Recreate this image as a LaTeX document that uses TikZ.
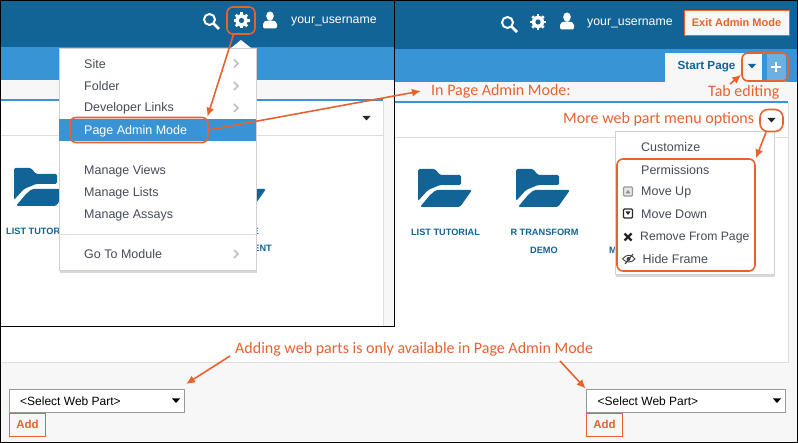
\documentclass[tikz,border=0pt]{standalone}
\usepackage{fontspec}
\setmainfont{Liberation Sans}
\newfontfamily\notefont{Carlito}
\usetikzlibrary{arrows.meta,shadows}

\definecolor{headblue}{HTML}{126396}
\definecolor{stripblue}{HTML}{3894D4}
\definecolor{plusblue}{HTML}{6CB0E2}
\definecolor{pagegray}{HTML}{F7F7F7}
\definecolor{linegray}{HTML}{DDDDDD}
\definecolor{menutext}{HTML}{454B57}
\definecolor{callout}{HTML}{E8622F}

\tikzset{
	menuitem/.style={anchor=west,inner sep=0pt,text=menutext,font=\fontsize{12.5}{14}\selectfont},
	menubox/.style={fill=white,draw=black!18,line width=0.5pt,drop shadow={opacity=0.3,shadow xshift=1pt,shadow yshift=-3pt}},
	linktext/.style={inner sep=0pt,text=headblue,font=\fontsize{9.2}{11}\selectfont\bfseries},
	usertext/.style={anchor=west,inner sep=0pt,text=white,font=\fontsize{12.3}{14}\selectfont},
	note/.style={anchor=west,inner sep=0pt,text=callout,font=\fontsize{16}{18}\notefont},
	ring/.style={shape=rectangle,draw=callout,line width=1.6pt,rounded corners=6pt,inner sep=0pt},
	pointer/.style={draw=callout,line width=1.6pt,-{Latex[length=9pt,width=8pt]}},
	selectbox/.style={shape=rectangle,draw=black!40,fill=white,line width=0.7pt,inner sep=0pt,minimum height=23pt},
	addbox/.style={shape=rectangle,draw=callout,fill=pagegray,line width=0.8pt,inner sep=0pt,minimum width=36pt,minimum height=23pt,text=callout,font=\fontsize{11.5}{13}\selectfont\bfseries},
	folder/.pic={
		\fill[headblue,rounded corners=1.5pt] (0,5) -- (0,1) -- (17,1) -- (22,7) -- (43,7) -- (43,17) -- (22,17) -- (10,22) -- (0,33) -- cycle;
		\fill[headblue,rounded corners=1.5pt] (18,22) -- (54,22) -- (42,39) -- (2,39) -- (12,27) -- cycle;
	},
	search/.pic={
		\draw[white,line width=2pt] (-1.5,-1.5) circle (5.5);
		\draw[white,line width=2.6pt] (2.5,2.5) -- (8,8);
	},
	gear/.pic={
		\foreach \a in {0,45,...,315}
			\draw[white,line width=2.8pt] (0,0) -- (\a:8);
		\fill[white] (0,0) circle (6.2);
		\fill[headblue] (0,0) circle (2.6);
	},
	user/.pic={
		\fill[white] (0,-4.5) ellipse (3.8 and 4.6);
		\fill[white,rounded corners=2pt] (-7,8) -- (-7,1.5) -- (-3,0) -- (3,0) -- (7,1.5) -- (7,8) -- cycle;
	},
	chevron/.pic={
		\draw[black!25,line width=1.6pt] (-2,-4) -- (2,0) -- (-2,4);
	},
	caret/.pic={
		\fill (-4,-2) -- (4,-2) -- (0,2.5) -- cycle;
	}
}

\begin{document}
\begin{tikzpicture}[x=1pt,y=-1pt]
	\useasboundingbox (0,0) rectangle (798,443);

	% page behind the screenshots
	\fill[white] (0,0) rectangle (798,443);
	\fill[pagegray] (0,362) rectangle (798,443);
	\fill[linegray] (0,362) rectangle (789,363.5);
	\fill[pagegray] (788,82) rectangle (798,362);
	\fill[headblue] (394,0) rectangle (798,49);
	\fill[stripblue] (394,49) rectangle (798,82);
	\fill[pagegray] (394,82) rectangle (798,101);
	\fill[stripblue] (394,101) rectangle (788,103);
	\fill[linegray] (394,137.5) rectangle (788,138.5);
	\fill[linegray] (788,103) rectangle (789,362);

	% small screenshot
	\fill[headblue] (0,0) rectangle (394,47);
	\fill[stripblue] (0,47) rectangle (394,80);
	\fill[pagegray] (0,80) rectangle (394,99);
	\fill[stripblue] (0,99) rectangle (383,101);
	\fill[white] (0,101) rectangle (383,326);
	\fill[pagegray] (383,101) rectangle (394,326);
	\fill[linegray] (0,135.5) rectangle (383,136.5);
	\fill[linegray] (383,101) rectangle (384,326);

	% tab
	\fill[pagegray] (665,53) rectangle (762,82);
	\fill[plusblue] (767,53) rectangle (786,82);
	\node[inner sep=0pt,text=headblue,font=\fontsize{11.7}{14}\selectfont\bfseries] (startpage) at (706.5,67) {Start Page};
	\path[headblue] (752,66) pic {caret};
	\draw[white,line width=2.2pt] (771,67) -- (781,67) (776,62) -- (776,72);

	% top bars
	\path (211,21) pic {search};
	\path (241.5,20.5) pic {gear};
	\path (270,20.5) pic {user};
	\node[usertext] (userleft) at (291,21.5) {your\_username};
	\path (509,24) pic {search};
	\path (538,22) pic {gear};
	\path (567,21.5) pic {user};
	\node[usertext] (userright) at (587,23.5) {your\_username};
	\node[shape=rectangle,draw=callout,fill=pagegray,line width=0.9pt,inner sep=0pt,minimum width=105pt,minimum height=25pt,text=callout,font=\fontsize{11}{13}\selectfont\bfseries] (exitadmin) at (736.5,22.5) {Exit Admin Mode};

	% folders and their labels
	\path (14,167) pic {folder};
	\path (212,167) pic {folder};
	\path (418,168) pic {folder};
	\path (516,168) pic {folder};
	\node[linktext,anchor=west] (listleft) at (6,231) {LIST TUTORIAL};
	\node[linktext,anchor=east] (entleft) at (272,248) {ENT};
	\node[linktext,anchor=east] (eleft) at (259,231) {E};
	\node[linktext] (listright) at (445.5,232.5) {LIST TUTORIAL};
	\node[linktext] (transform) at (544.5,232.5) {R TRANSFORM};
	\node[linktext] (demo) at (544,250) {DEMO};
	\node[linktext,anchor=west] (mright) at (609,250) {M};

	% panel menu carets
	\path[black!85] (366.5,118) pic {caret};
	\path[black!85] (771.5,120) pic {caret};

	% left menu
	\fill[white] (241,40) -- (231,48) -- (251,48) -- cycle;
	\node[shape=rectangle,menubox,minimum width=197pt,minimum height=222pt,inner sep=0pt] (adminmenu) at (157.5,159) {};
	\fill[stripblue] (59,119) rectangle (256,141);
	\fill[linegray] (59,234) rectangle (256,235);
	\node[menuitem] (site) at (84,64) {Site};
	\node[menuitem] (foldermenu) at (84,86) {Folder};
	\node[menuitem] (devlinks) at (84,108) {Developer Links};
	\node[menuitem,text=white] (pageadmin) at (84,131) {Page Admin Mode};
	\node[menuitem] (views) at (84,171) {Manage Views};
	\node[menuitem] (lists) at (84,193.5) {Manage Lists};
	\node[menuitem] (assays) at (84,215.5) {Manage Assays};
	\node[menuitem] (gotomodule) at (84,254) {Go To Module};
	\path (236,63.5) pic {chevron};
	\path (236,86) pic {chevron};
	\path (236,108) pic {chevron};
	\path (236,254) pic {chevron};

	% right menu
	\node[shape=rectangle,menubox,minimum width=159pt,minimum height=143pt,inner sep=0pt] (partmenu) at (694.5,202.5) {};
	\node[menuitem] (customize) at (641,147) {Customize};
	\node[menuitem] (permissions) at (641,170.5) {Permissions};
	\node[menuitem] (moveup) at (641,192.5) {Move Up};
	\node[menuitem] (movedown) at (641,214) {Move Down};
	\node[menuitem,font=\fontsize{12.2}{14}\selectfont] (removepage) at (640,237.5) {Remove From Page};
	\node[menuitem] (hideframe) at (642.5,259.5) {Hide Frame};
	\draw[black!40,fill=black!10,line width=1.2pt,rounded corners=1pt] (623.5,187) rectangle (632.5,196);
	\fill[black!45] (625.5,193.5) -- (630.5,193.5) -- (628,190) -- cycle;
	\draw[black!85,fill=white,line width=1.4pt,rounded corners=1pt] (623.5,209) rectangle (632.5,218);
	\fill[black!85] (625.5,211.5) -- (630.5,211.5) -- (628,215) -- cycle;
	\draw[black!85,line width=2.4pt] (624.5,233.5) -- (631.5,240.5) (631.5,233.5) -- (624.5,240.5);
	\draw[black!75,line width=0.9pt] (622.5,259) .. controls (626,254) and (632,254) .. (635,259) .. controls (632,263) and (626,263) .. (622.5,259);
	\fill[black!75] (628.5,259) circle (2);
	\draw[black!75,line width=1.1pt] (625,264) -- (633,254);

	% bottom of both panels
	\node[selectbox,minimum width=175pt] (selectleft) at (96.5,400.5) {};
	\node[anchor=west,inner sep=0pt,font=\fontsize{12}{14}\selectfont] (selecttextl) at (20,401) {<Select Web Part>};
	\path[black] (176,400.5) pic {caret};
	\node[addbox] (addleft) at (27.5,424.5) {Add};
	\node[selectbox,minimum width=199pt] (selectright) at (685.5,400.5) {};
	\node[anchor=west,inner sep=0pt,font=\fontsize{12}{14}\selectfont] (selecttextr) at (597.5,401) {<Select Web Part>};
	\path[black] (777,400.5) pic {caret};
	\node[addbox] (addright) at (604.5,424.5) {Add};

	% frames
	\draw[black,line width=1pt] (0.5,0.5) rectangle (797.5,442.5);
	\draw[black,line width=1pt] (0.5,326.5) -- (394,326.5) -- (394,0.5);

	% callouts
	\node[note] (adminnote) at (431,91) {In Page Admin Mode:};
	\node[note] (tabnote) at (708,92) {Tab editing};
	\node[note] (morenote) at (563,119.5) {More web part menu options};
	\node[note] (addnote) at (235,349.5) {Adding web parts is only available in Page Admin Mode};

	\node[ring,minimum width=28pt,minimum height=27pt] (gearring) at (241,20.5) {};
	\node[ring,minimum width=138pt,minimum height=25pt] (pagering) at (139,130) {};
	\node[ring,minimum width=46pt,minimum height=28pt] (tabring) at (765,67) {};
	\node[ring,minimum width=23pt,minimum height=22pt,rounded corners=8pt] (caretring) at (771.5,120.5) {};
	\node[ring,minimum width=138pt,minimum height=112pt] (optionring) at (686,215) {};

	\coordinate (adminfrom) at (421,91);
	\coordinate (tabfrom) at (730,84);
	\coordinate (addfroml) at (230,356);
	\coordinate (addtipl) at (186,384);
	\coordinate (addfromr) at (560,361);

	\path (gearring.-118) edge[pointer] (pagering.11);
	\path (pagering.east) edge[pointer] (adminfrom);
	\path (tabfrom) edge[pointer] (tabring.198);
	\path (caretring.-115) edge[pointer] (optionring.39);
	\path (addfroml) edge[pointer] (addtipl);
	\path (addfromr) edge[pointer] (selectright.north west);
\end{tikzpicture}
\end{document}
